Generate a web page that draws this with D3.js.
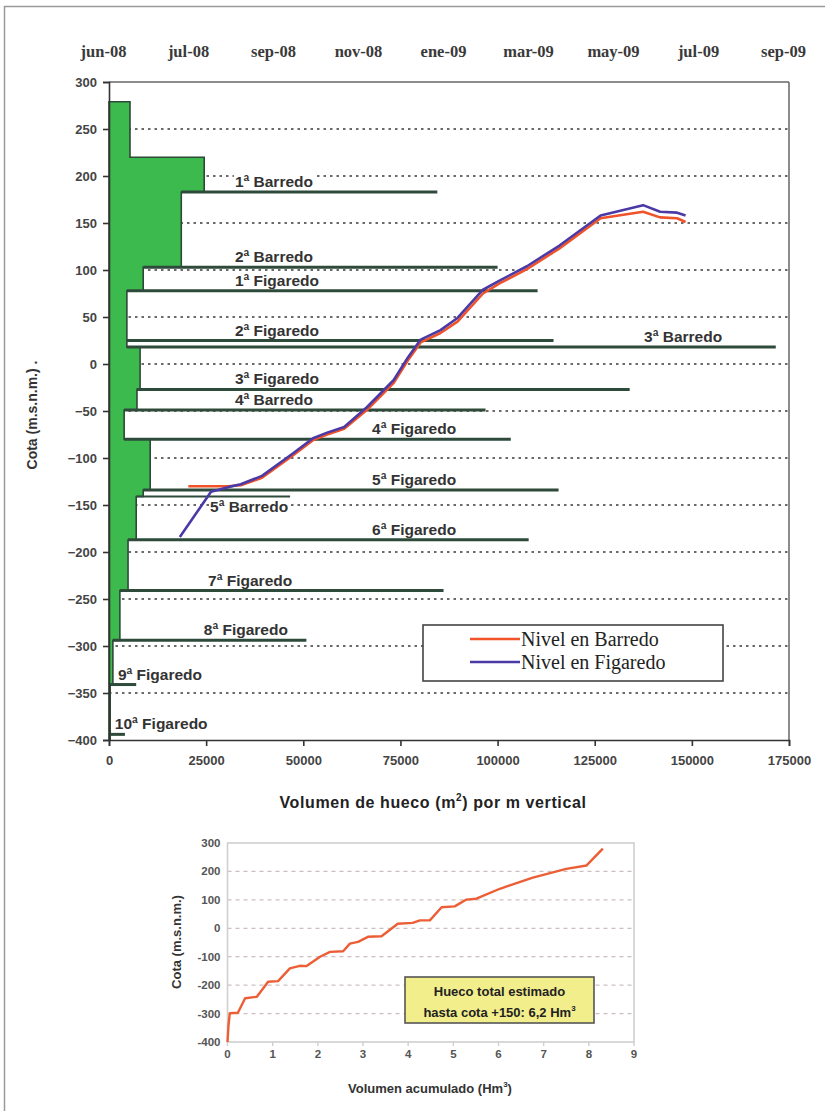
<!DOCTYPE html>
<html><head><meta charset="utf-8">
<script src="https://cdn.jsdelivr.net/npm/d3@7"></script>
<style>body{margin:0;background:#fff}svg{display:block}</style>
</head><body><svg id="c" width="825" height="1111"></svg>
<script>
// ---------- DATA ----------
const topTickDates = ["2008-06-01","2008-07-31","2008-09-29","2008-11-28","2009-01-27","2009-03-28","2009-05-27","2009-07-26","2009-09-24"];
const topTickLabels = ["jun-08","jul-08","sep-08","nov-08","ene-09","mar-09","may-09","jul-09","sep-09"];
const cotaTicks = [300,250,200,150,100,50,0,-50,-100,-150,-200,-250,-300,-350,-400];
const volTicks = [0,25000,50000,75000,100000,125000,150000,175000];

// step profile of void volume per vertical metre (top cota of each step, width)
const profileTop   = [279, 220, 183, 103, 78, 25, 18, -27, -49, -80, -134, -141, -187, -241, -294, -341, -394];
const profileWidth = [5400, 24500, 18600, 8800, 4600, 4600, 8000, 7200, 3900, 10600, 8800, 7000, 4900, 2800, 1000, 300, 300];
const profileBottom = -400;

// mine levels
const levelNames = ["1ª Barredo","2ª Barredo","1ª Figaredo","2ª Figaredo","3ª Barredo","3ª Figaredo","4ª Barredo","4ª Figaredo","5ª Figaredo","5ª Barredo","6ª Figaredo","7ª Figaredo","8ª Figaredo","9ª Figaredo","10ª Figaredo"];
const levelCota = [183, 103, 78, 25, 18, -27, -49, -80, -134, -141, -187, -241, -294, -341, -394];
const levelEnd  = [84500, 100000, 110300, 114400, 171600, 134000, 96900, 103400, 115700, 46600, 108000, 86100, 50800, 7000, 4100];
const labelVol  = [32400, 32400, 32400, 32400, 137700, 32400, 32400, 67700, 67700, 26000, 67700, 25500, 24400, 2300, 1500];
const labelBelow = [false,false,false,false,false,false,false,false,false,true,false,false,false,false,false];

// water levels
const barredoDates = ["2008-07-27","2008-08-24","2008-09-02","2008-09-17","2008-10-09","2008-10-23","2008-11-02","2008-11-14","2008-11-30","2008-12-19","2008-12-29","2009-01-07","2009-01-21","2009-02-02","2009-02-20","2009-03-04","2009-03-23","2009-04-15","2009-05-14","2009-06-13","2009-06-25","2009-07-07","2009-07-13"];
const barredoCota  = [-130,-130,-129,-121,-97,-81,-75,-69,-49,-20,4,23,33,45,75,86,101,123,155,162,156,155,151];
const figaredoDates = ["2008-07-21","2008-08-12","2008-08-24","2008-09-02","2008-09-17","2008-10-09","2008-10-23","2008-11-02","2008-11-14","2008-11-30","2008-12-19","2008-12-29","2009-01-07","2009-01-21","2009-02-02","2009-02-20","2009-03-04","2009-03-23","2009-04-15","2009-05-14","2009-06-13","2009-06-25","2009-07-07","2009-07-13"];
const figaredoCota  = [-184,-136,-131,-128,-119,-95,-79,-73,-67,-46,-17,7,26,36,49,79,89,104,126,158,169,162,161,158];

// cumulative volume chart
const acumVol  = [0, 0.02, 0.05, 0.23, 0.39, 0.65, 0.9, 1.12, 1.38, 1.6, 1.75, 2.05, 2.27, 2.56, 2.71, 2.89, 3.11, 3.41, 3.77, 4.1, 4.26, 4.48, 4.74, 5.03, 5.29, 5.51, 6.03, 6.76, 7.5, 7.95, 8.31];
const acumCota = [-400, -346, -299, -297, -246, -241, -188, -186, -141, -132, -133, -100, -83, -81, -54, -48, -30, -28, 16, 19, 28, 28, 74, 77, 101, 104, 139, 178, 209, 221, 280];
const acumXTicks = [0,1,2,3,4,5,6,7,8,9];
const acumYTicks = [300,200,100,0,-100,-200,-300,-400];

// ---------- DRAW ----------
const svg = d3.select("#c");
const SANS = "'Liberation Sans', Arial, sans-serif";
const SERIF = "'Liberation Serif', 'Times New Roman', serif";

// outer frame
svg.append("rect").attr("x",4.5).attr("y",6.5).attr("width",840).attr("height",1140)
  .attr("fill","none").attr("stroke","#9a9a9a").attr("stroke-width",1.5);

const L=109, R=789, T=82, B=740;
const x = d3.scaleLinear([0,175000],[L,R]);
const y = d3.scaleLinear([-400,300],[B,T]);
const parse = d3.timeParse("%Y-%m-%d");
const tx = d3.scaleTime([parse("2008-06-01"), parse("2009-09-24")],[L,R]);

const g = svg.append("g");

// gridlines (dotted)
g.selectAll("line.grid").data(cotaTicks.filter(d=>d!==300 && d!==-400)).join("line")
  .attr("x1",L).attr("x2",R).attr("y1",d=>y(d)).attr("y2",d=>y(d))
  .attr("stroke","#3a3a3a").attr("stroke-width",1.6).attr("stroke-dasharray","2.5,4");

// plot frame top/right
g.append("line").attr("x1",L).attr("x2",R).attr("y1",T).attr("y2",T).attr("stroke","#666").attr("stroke-width",1.5);
g.append("line").attr("x1",R).attr("x2",R).attr("y1",T).attr("y2",B).attr("stroke","#666").attr("stroke-width",1.5);

// labels layer (with white backgrounds)
const labG = g.append("g");

// profile
const pts = [[x(0), y(profileTop[0])]];
profileTop.forEach((t,i)=>{
  const bot = i<profileTop.length-1 ? profileTop[i+1] : profileBottom;
  pts.push([x(profileWidth[i]), y(t)]);
  pts.push([x(profileWidth[i]), y(bot)]);
});
pts.push([x(0), y(profileBottom)]);
g.append("path").attr("d", d3.line()(pts)+"Z")
  .attr("fill","#3dba4e").attr("stroke","#2c4a37").attr("stroke-width",1.6);

function widthAt(c){
  for(let i=0;i<profileTop.length;i++){
    const bot = i<profileTop.length-1 ? profileTop[i+1] : profileBottom;
    if(c<=profileTop[i] && c>bot) return profileWidth[i];
  }
  return 0;
}

// level lines
g.selectAll("line.lvl").data(levelCota).join("line")
  .attr("x1",(d)=>x(Math.min(widthAt(d+0.5),widthAt(d-0.5))))
  .attr("x2",(d,i)=>x(levelEnd[i]))
  .attr("y1",d=>y(d)).attr("y2",d=>y(d))
  .attr("stroke","#2e4a3b").attr("stroke-width",(d,i)=>i===9?2:3);

// level labels
levelNames.forEach((n,i)=>{
  const t = labG.append("text").attr("x",x(labelVol[i]))
    .attr("y", y(levelCota[i]) + (labelBelow[i] ? 15 : -5))
    .attr("font-family",SANS).attr("font-weight","bold").attr("font-size",15.5)
    .attr("fill","#333").text(n);
  const bb = t.node().getBBox();
  labG.insert("rect","text").attr("x",bb.x-1).attr("y",bb.y+1).attr("width",bb.width+2).attr("height",bb.height-2).attr("fill","#fff");
});
labG.raise();

// water-level curves
const lineFn = d3.line().x(d=>tx(parse(d[0]))).y(d=>y(d[1]));
g.append("path").attr("d", lineFn(barredoDates.map((d,i)=>[d,barredoCota[i]])))
  .attr("fill","none").attr("stroke","#f0522a").attr("stroke-width",2.6).attr("stroke-linejoin","round");
g.append("path").attr("d", lineFn(figaredoDates.map((d,i)=>[d,figaredoCota[i]])))
  .attr("fill","none").attr("stroke","#4b3aa6").attr("stroke-width",2.6).attr("stroke-linejoin","round");

// left axis
const yAx = g.append("g").attr("transform",`translate(${L},0)`)
  .call(d3.axisLeft(y).tickValues(cotaTicks).tickSize(6).tickPadding(6));
yAx.select(".domain").attr("stroke","#333").attr("stroke-width",1.6);
yAx.selectAll(".tick line").attr("stroke","#333").attr("stroke-width",1.6);
yAx.selectAll("text").attr("font-family",SANS).attr("font-weight","bold").attr("font-size",13).attr("fill","#444");

// bottom axis
const xAx = g.append("g").attr("transform",`translate(0,${B})`)
  .call(d3.axisBottom(x).tickValues(volTicks).tickFormat(d3.format("d")).tickSize(6).tickPadding(10));
xAx.select(".domain").attr("stroke","#333").attr("stroke-width",1.6);
xAx.selectAll(".tick line").attr("stroke","#333").attr("stroke-width",1.6);
xAx.selectAll("text").attr("font-family",SANS).attr("font-weight","bold").attr("font-size",13).attr("fill","#444");

// top date axis (labels only)
g.selectAll("text.top").data(topTickDates).join("text")
  .attr("x",d=>tx(parse(d))-5.5).attr("y",57).attr("text-anchor","middle")
  .attr("font-family",SERIF).attr("font-weight","bold").attr("font-size",16.5).attr("fill","#3a3a3a")
  .text((d,i)=>topTickLabels[i]);

// axis titles
g.append("text").attr("transform","translate(37,415) rotate(-90)").attr("text-anchor","middle")
  .attr("font-family",SANS).attr("font-weight","bold").attr("font-size",14).attr("fill","#333")
  .text("Cota (m.s.n.m.) .");
const xt = g.append("text").attr("x",433).attr("y",808).attr("text-anchor","middle")
  .attr("font-family",SANS).attr("font-weight","bold").attr("font-size",16).attr("fill","#222")
  .attr("letter-spacing",0.6);
xt.append("tspan").text("Volumen de hueco (m");
xt.append("tspan").attr("font-size",10).attr("dy",-7).text("2");
xt.append("tspan").attr("dy",7).text(") por m  vertical");

// legend
const lg = g.append("g");
lg.append("rect").attr("x",423).attr("y",625).attr("width",300).attr("height",56)
  .attr("fill","#fff").attr("stroke","#444").attr("stroke-width",1.6);
[["Nivel en Barredo","#f0522a",639],["Nivel en Figaredo","#4b3aa6",662]].forEach(([t,c,yy])=>{
  lg.append("line").attr("x1",470).attr("x2",520).attr("y1",yy).attr("y2",yy).attr("stroke",c).attr("stroke-width",2.6);
  lg.append("text").attr("x",521).attr("y",yy+7).attr("font-family",SERIF).attr("font-size",20).attr("fill","#222").text(t);
});

// ---------- small cumulative chart ----------
const sL=227.5, sR=634, sT=843, sB=1042;
const xs = d3.scaleLinear([0,9],[sL,sR]);
const ys = d3.scaleLinear([-400,300],[sB,sT]);
const s = svg.append("g");
s.selectAll("line.sg").data(acumYTicks.filter(d=>d!==300 && d!==-400)).join("line")
  .attr("x1",sL).attr("x2",sR).attr("y1",d=>ys(d)).attr("y2",d=>ys(d))
  .attr("stroke","#cdbfbf").attr("stroke-width",1.2).attr("stroke-dasharray","4,4");
s.append("rect").attr("x",sL).attr("y",sT).attr("width",sR-sL).attr("height",sB-sT)
  .attr("fill","none").attr("stroke","#cfcfcf").attr("stroke-width",1.6);
s.selectAll("line.st").data(acumXTicks).join("line")
  .attr("x1",d=>xs(d)).attr("x2",d=>xs(d)).attr("y1",sB).attr("y2",sB+4)
  .attr("stroke","#cfcfcf").attr("stroke-width",1.4);
s.selectAll("text.sx").data(acumXTicks).join("text")
  .attr("x",d=>xs(d)).attr("y",sB+16).attr("text-anchor","middle")
  .attr("font-family",SANS).attr("font-weight","bold").attr("font-size",11.5).attr("fill","#555").text(d=>d);
s.selectAll("text.sy").data(acumYTicks).join("text")
  .attr("x",sL-7).attr("y",d=>ys(d)+4).attr("text-anchor","end")
  .attr("font-family",SANS).attr("font-weight","bold").attr("font-size",11.5).attr("fill","#555").text(d=>d);
s.append("path").attr("d", d3.line().x(d=>xs(d[0])).y(d=>ys(d[1]))(acumVol.map((v,i)=>[v,acumCota[i]])))
  .attr("fill","none").attr("stroke","#ec5e36").attr("stroke-width",2.4).attr("stroke-linejoin","round");
s.append("text").attr("transform","translate(181,942) rotate(-90)").attr("text-anchor","middle")
  .attr("font-family",SANS).attr("font-weight","bold").attr("font-size",13).attr("fill","#333")
  .text("Cota (m.s.n.m.)");
const sxt = s.append("text").attr("x",430).attr("y",1093).attr("text-anchor","middle")
  .attr("font-family",SANS).attr("font-weight","bold").attr("font-size",13).attr("fill","#333");
sxt.append("tspan").text("Volumen acumulado (Hm");
sxt.append("tspan").attr("font-size",8).attr("dy",-6).text("3");
sxt.append("tspan").attr("dy",6).text(")");
// note box
s.append("rect").attr("x",405).attr("y",977).attr("width",189).attr("height",46)
  .attr("fill","#f3ee8c").attr("stroke","#555").attr("stroke-width",1.6);
s.append("text").attr("x",499.5).attr("y",996).attr("text-anchor","middle")
  .attr("font-family",SANS).attr("font-weight","bold").attr("font-size",13).attr("fill","#222")
  .text("Hueco total estimado");
const nb = s.append("text").attr("x",499.5).attr("y",1017).attr("text-anchor","middle")
  .attr("font-family",SANS).attr("font-weight","bold").attr("font-size",13).attr("fill","#222");
nb.append("tspan").text("hasta cota +150: 6,2 Hm");
nb.append("tspan").attr("font-size",8).attr("dy",-6).text("3");
</script></body></html>
